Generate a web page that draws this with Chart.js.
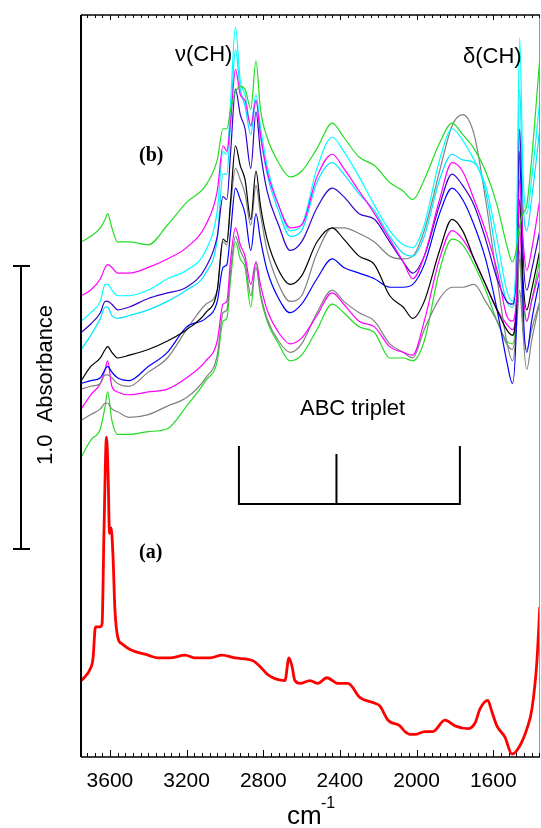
<!DOCTYPE html>
<html>
<head>
<meta charset="utf-8">
<script src="https://cdn.jsdelivr.net/npm/chart.js@4.4.0/dist/chart.umd.min.js"></script>
<style>
  html, body { margin: 0; padding: 0; background: #fff; }
  #wrap { position: relative; width: 541px; height: 828px; }
</style>
</head>
<body>
<div id="wrap"><canvas id="chart" width="541" height="828"></canvas></div>
<script>
/* ── Data (absorbance, curves offset) ───────────────────────────── */

const WAVENUMBERS = [3750, 3700, 3650, 3625, 3612, 3590, 3560, 3500, 3400, 3300,
  3200, 3100, 3040, 3010, 2990, 2970, 2945, 2920, 2895, 2865,
  2838, 2815, 2780, 2720, 2660, 2600, 2520, 2440, 2380, 2300,
  2220, 2140, 2070, 2020, 1960, 1880, 1815, 1760, 1700, 1640,
  1580, 1530, 1500, 1480, 1462, 1445, 1425, 1400, 1357];

const GREEN_1 = [1.82, 1.84, 1.87, 1.90, 1.92, 1.87, 1.82, 1.82, 1.81, 1.88,
  1.96, 2.02, 2.11, 2.22, 2.22, 2.29, 2.35, 2.37, 2.36, 2.29,
  2.46, 2.29, 2.19, 2.10, 2.05, 2.07, 2.15, 2.24, 2.19, 2.12,
  2.09, 2.03, 2.00, 1.97, 2.04, 2.17, 2.24, 2.20, 2.15, 2.07,
  1.95, 1.81, 1.75, 1.79, 1.88, 1.92, 1.95, 2.11, 2.47];
const MAGENTA_1 = [1.63, 1.65, 1.69, 1.73, 1.74, 1.73, 1.71, 1.71, 1.73, 1.76,
  1.80, 1.88, 2.00, 2.16, 2.14, 2.25, 2.43, 2.34, 2.32, 2.23,
  2.32, 2.20, 2.07, 1.95, 1.87, 1.88, 2.05, 2.13, 2.08, 2.00,
  1.92, 1.83, 1.75, 1.69, 1.77, 1.97, 2.10, 2.07, 1.97, 1.86,
  1.72, 1.56, 1.54, 1.61, 2.04, 1.83, 1.72, 1.79, 1.97];
const CYAN_1 = [1.54, 1.57, 1.61, 1.67, 1.67, 1.65, 1.63, 1.63, 1.65, 1.69,
  1.72, 1.79, 1.93, 2.14, 2.13, 2.32, 2.58, 2.39, 2.34, 2.23,
  2.34, 2.23, 2.09, 1.95, 1.86, 1.88, 2.08, 2.19, 2.14, 2.05,
  1.95, 1.86, 1.81, 1.80, 1.88, 2.11, 2.22, 2.18, 2.11, 2.02,
  1.83, 1.65, 1.61, 1.79, 2.54, 2.07, 1.92, 2.04, 2.32];
const INDIGO = [1.50, 1.53, 1.57, 1.61, 1.61, 1.60, 1.58, 1.59, 1.62, 1.64,
  1.66, 1.73, 1.84, 1.98, 1.97, 2.14, 2.36, 2.27, 2.22, 2.08,
  2.28, 2.14, 2.00, 1.88, 1.79, 1.82, 1.94, 2.01, 1.98, 1.92,
  1.90, 1.82, 1.75, 1.71, 1.77, 1.95, 2.06, 2.02, 1.95, 1.83,
  1.69, 1.61, 1.60, 1.72, 2.22, 1.79, 1.65, 1.72, 1.86];
const CYAN_2 = [1.44, 1.49, 1.55, 1.59, 1.59, 1.56, 1.55, 1.56, 1.58, 1.61,
  1.65, 1.71, 1.83, 2.06, 2.06, 2.25, 2.50, 2.36, 2.30, 2.20,
  2.32, 2.20, 2.06, 1.93, 1.84, 1.86, 2.03, 2.10, 2.06, 1.99,
  1.93, 1.84, 1.78, 1.77, 1.84, 2.04, 2.13, 2.11, 2.10, 2.00,
  1.76, 1.61, 1.59, 1.72, 2.36, 1.97, 1.86, 1.97, 2.22];
const BLACK = [1.33, 1.38, 1.41, 1.44, 1.45, 1.43, 1.41, 1.42, 1.44, 1.47,
  1.51, 1.57, 1.65, 1.83, 1.82, 1.97, 2.16, 2.09, 2.04, 1.90,
  2.07, 1.95, 1.83, 1.72, 1.67, 1.70, 1.82, 1.87, 1.83, 1.77,
  1.74, 1.63, 1.59, 1.55, 1.61, 1.79, 1.90, 1.86, 1.76, 1.67,
  1.58, 1.51, 1.49, 1.58, 1.97, 1.69, 1.58, 1.65, 1.79];
const BLUE = [1.32, 1.33, 1.34, 1.37, 1.38, 1.36, 1.34, 1.33, 1.38, 1.43,
  1.52, 1.55, 1.61, 1.73, 1.74, 1.86, 2.01, 1.97, 1.92, 1.79,
  1.92, 1.83, 1.72, 1.62, 1.57, 1.60, 1.69, 1.76, 1.73, 1.71,
  1.69, 1.66, 1.66, 1.67, 1.74, 1.92, 2.01, 1.97, 1.88, 1.76,
  1.58, 1.40, 1.32, 1.51, 2.14, 1.61, 1.43, 1.54, 1.69];
const GRAY_1 = [1.30, 1.31, 1.32, 1.35, 1.35, 1.34, 1.32, 1.31, 1.36, 1.41,
  1.51, 1.60, 1.65, 1.82, 1.81, 1.95, 2.08, 2.04, 1.99, 1.88,
  2.02, 1.92, 1.79, 1.67, 1.61, 1.63, 1.78, 1.87, 1.87, 1.85,
  1.82, 1.77, 1.76, 1.77, 1.86, 2.07, 2.23, 2.27, 2.20, 1.97,
  1.69, 1.47, 1.40, 1.51, 1.79, 1.51, 1.37, 1.47, 1.61];
const MAGENTA_2 = [1.23, 1.28, 1.32, 1.37, 1.40, 1.31, 1.29, 1.28, 1.29, 1.30,
  1.34, 1.40, 1.47, 1.60, 1.61, 1.76, 1.87, 1.81, 1.77, 1.67,
  1.75, 1.67, 1.58, 1.50, 1.46, 1.48, 1.56, 1.64, 1.60, 1.54,
  1.52, 1.45, 1.43, 1.42, 1.54, 1.76, 1.86, 1.83, 1.76, 1.67,
  1.58, 1.53, 1.51, 1.58, 1.86, 1.65, 1.54, 1.61, 1.72];
const GRAY_2 = [1.19, 1.21, 1.23, 1.25, 1.25, 1.23, 1.22, 1.20, 1.21, 1.24,
  1.27, 1.34, 1.42, 1.57, 1.58, 1.72, 1.84, 1.79, 1.75, 1.63,
  1.73, 1.64, 1.55, 1.47, 1.43, 1.46, 1.57, 1.65, 1.61, 1.57,
  1.54, 1.46, 1.43, 1.41, 1.51, 1.62, 1.66, 1.66, 1.67, 1.61,
  1.54, 1.46, 1.44, 1.51, 1.65, 1.51, 1.44, 1.51, 1.61];
const GREEN_2 = [1.06, 1.12, 1.16, 1.24, 1.29, 1.19, 1.14, 1.14, 1.15, 1.16,
  1.24, 1.33, 1.40, 1.54, 1.55, 1.69, 1.82, 1.76, 1.73, 1.59,
  1.75, 1.63, 1.54, 1.46, 1.40, 1.42, 1.51, 1.60, 1.57, 1.52,
  1.50, 1.41, 1.41, 1.40, 1.47, 1.72, 1.83, 1.81, 1.74, 1.65,
  1.54, 1.47, 1.46, 1.54, 1.76, 1.61, 1.54, 1.61, 1.76];

/* spectrum (a) */
const RED_WN = [3750, 3735, 3704, 3688, 3678, 3673, 3652, 3641, 3631, 3618,
  3610, 3602, 3594, 3584, 3574, 3558, 3537, 3495, 3401, 3349,
  3287, 3208, 3156, 3078, 3015, 2948, 2854, 2817, 2775, 2687,
  2666, 2650, 2635, 2608, 2556, 2515, 2468, 2410, 2358, 2295,
  2217, 2191, 2149, 2087, 2061, 2035, 2009, 1956, 1915, 1852,
  1800, 1732, 1695, 1669, 1628, 1607, 1581, 1539, 1502, 1461,
  1424, 1398, 1372, 1357];
const RED_ABS = [0.27, 0.28, 0.31, 0.35, 0.45, 0.46, 0.46, 0.47, 0.80, 1.13,
  1.01, 0.79, 0.81, 0.71, 0.52, 0.42, 0.40, 0.38, 0.36, 0.35,
  0.35, 0.36, 0.35, 0.35, 0.36, 0.35, 0.34, 0.32, 0.29, 0.27,
  0.35, 0.32, 0.27, 0.26, 0.27, 0.26, 0.28, 0.26, 0.26, 0.21,
  0.19, 0.18, 0.13, 0.11, 0.09, 0.08, 0.08, 0.09, 0.09, 0.13,
  0.11, 0.10, 0.12, 0.17, 0.20, 0.16, 0.11, 0.07, 0.01, 0.04,
  0.10, 0.17, 0.34, 0.53];

const X_TICKS = [3600, 3200, 2800, 2400, 2000, 1600];
const TRIPLET_WN = [2927, 2418, 1774];

/* ── Helpers ────────────────────────────────────────────────────── */
const pts = (xs, ys) => xs.map((x, i) => ({ x, y: ys[i] }));

const B_SERIES = [
  [GREEN_1, '#22dd22'], [MAGENTA_1, '#ff00ff'], [CYAN_1, '#00ffff'],
  [INDIGO, '#3300cc'], [CYAN_2, '#00e5ff'], [BLACK, '#000000'],
  [BLUE, '#0000ff'], [GRAY_1, '#808080'], [MAGENTA_2, '#ff00ff'],
  [GRAY_2, '#808080'], [GREEN_2, '#22dd22'],
];

const datasets = B_SERIES.map(([vals, color]) => ({
  data: pts(WAVENUMBERS, vals),
  borderColor: color,
  borderWidth: 1.2,
}));
datasets.push({ data: pts(RED_WN, RED_ABS), borderColor: '#ff0000', borderWidth: 2.8 });

/* ── Frame, ticks and annotations ───────────────────────────────── */
const decor = {
  id: 'decor',
  afterDraw(chart) {
    const { ctx, chartArea: a, scales: { x, y } } = chart;
    ctx.save();
    ctx.strokeStyle = '#000';
    ctx.fillStyle = '#000';

    // frame
    ctx.lineWidth = 2;
    ctx.beginPath(); ctx.moveTo(a.left, a.top); ctx.lineTo(a.left, a.bottom); ctx.stroke();
    ctx.lineWidth = 1.5;
    ctx.beginPath(); ctx.moveTo(a.left, a.top); ctx.lineTo(a.right, a.top); ctx.stroke();
    ctx.beginPath(); ctx.moveTo(a.left, a.bottom); ctx.lineTo(a.right, a.bottom); ctx.stroke();
    ctx.strokeStyle = '#999';
    ctx.lineWidth = 1;
    ctx.beginPath(); ctx.moveTo(a.right - 0.5, a.top); ctx.lineTo(a.right - 0.5, a.bottom); ctx.stroke();

    // inward ticks every 40 cm-1 on top and bottom
    ctx.strokeStyle = '#000';
    ctx.lineWidth = 1;
    for (let wn = 3720; wn >= 1360; wn -= 40) {
      const px = Math.round(x.getPixelForValue(wn)) + 0.5;
      const major = wn % 400 === 0;
      ctx.beginPath();
      ctx.moveTo(px, a.bottom); ctx.lineTo(px, a.bottom - (major ? 7 : 4));
      ctx.moveTo(px, a.top); ctx.lineTo(px, a.top + (major ? 5 : 3));
      ctx.stroke();
    }

    // tick labels
    ctx.font = '21px "Liberation Sans", Arial, sans-serif';
    ctx.textAlign = 'center';
    ctx.textBaseline = 'alphabetic';
    X_TICKS.forEach(v => ctx.fillText(String(v), x.getPixelForValue(v), 787));

    // axis title cm-1
    ctx.font = '26px "Liberation Sans", Arial, sans-serif';
    ctx.textAlign = 'left';
    ctx.fillText('cm', 287, 824);
    ctx.font = '16px "Liberation Sans", Arial, sans-serif';
    ctx.fillText('-1', 321, 808);

    // band labels
    ctx.font = '22px "Liberation Sans", Arial, sans-serif';
    ctx.fillText('\u03bd(CH)', 175, 61);
    ctx.fillText('\u03b4(CH)', 463, 63);
    ctx.fillText('ABC triplet', 300, 415);

    ctx.font = 'bold 20px "Liberation Serif", "Times New Roman", serif';
    ctx.fillText('(b)', 139, 161);
    ctx.fillText('(a)', 139, 558);

    // ABC triplet bracket
    ctx.lineWidth = 2;
    const [t1, t2, t3] = TRIPLET_WN.map(v => x.getPixelForValue(v));
    const yb = y.getPixelForValue(0.894);
    ctx.beginPath();
    ctx.moveTo(t1, y.getPixelForValue(1.099)); ctx.lineTo(t1, yb); ctx.lineTo(t3, yb);
    ctx.lineTo(t3, y.getPixelForValue(1.099));
    ctx.moveTo(t2, y.getPixelForValue(1.071)); ctx.lineTo(t2, yb);
    ctx.stroke();

    // 1.0 absorbance scale bar
    const yTop = y.getPixelForValue(1.735), yBot = y.getPixelForValue(0.735);
    ctx.beginPath();
    ctx.moveTo(21, yTop); ctx.lineTo(21, yBot);
    ctx.moveTo(13, yTop); ctx.lineTo(30, yTop);
    ctx.moveTo(13, yBot); ctx.lineTo(30, yBot);
    ctx.stroke();

    ctx.translate(52, 385);
    ctx.rotate(-Math.PI / 2);
    ctx.font = '22px "Liberation Sans", Arial, sans-serif';
    ctx.textAlign = 'center';
    ctx.fillText('1.0  Absorbance', 0, 0);

    ctx.restore();
  }
};

/* ── Chart ──────────────────────────────────────────────────────── */
new Chart(document.getElementById('chart'), {
  type: 'line',
  data: { datasets },
  options: {
    responsive: false,
    animation: false,
    devicePixelRatio: 1,
    layout: { padding: { left: 81, right: 1, top: 15, bottom: 71 } },
    elements: {
      point: { radius: 0 },
      line: { cubicInterpolationMode: 'monotone', fill: false },
    },
    plugins: { legend: { display: false }, tooltip: { enabled: false } },
    scales: {
      x: { type: 'linear', reverse: true, min: 1356, max: 3751, display: false },
      y: { min: 0, max: 2.622, display: false },
    },
  },
  plugins: [decor],
});
</script>
</body>
</html>
